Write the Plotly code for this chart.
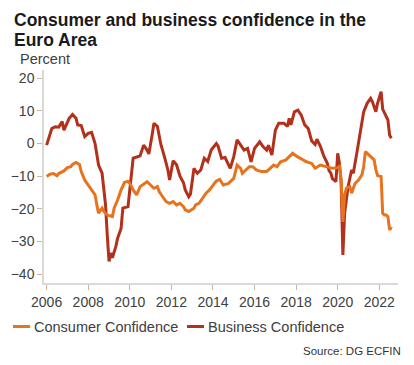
import plotly.graph_objects as go

# ---------------- data ----------------
business_dates = [
    "2006-01", "2006-04", "2006-06", "2006-08", "2006-10", "2006-11",
    "2007-02", "2007-04", "2007-06", "2007-07", "2007-09", "2007-11",
    "2008-01", "2008-03", "2008-05", "2008-07", "2008-09", "2008-11", "2008-12",
    "2009-01", "2009-02", "2009-03", "2009-05", "2009-06", "2009-08", "2009-09", "2009-12",
    "2010-01", "2010-03", "2010-07", "2010-09", "2010-11", "2010-12",
    "2011-02", "2011-03", "2011-05", "2011-07", "2011-09", "2011-11", "2011-12",
    "2012-02", "2012-04", "2012-06", "2012-08", "2012-09", "2012-11", "2012-12",
    "2013-02", "2013-04", "2013-06", "2013-08", "2013-10", "2013-12",
    "2014-03", "2014-04", "2014-06", "2014-08", "2014-11",
    "2015-01", "2015-03", "2015-05", "2015-07", "2015-09", "2015-11",
    "2016-01", "2016-04", "2016-06", "2016-08", "2016-09", "2016-11",
    "2017-01", "2017-03", "2017-06", "2017-08", "2017-09", "2017-10", "2017-12",
    "2018-02", "2018-04", "2018-06", "2018-08", "2018-09", "2018-10", "2018-12",
    "2019-01", "2019-03", "2019-05", "2019-07", "2019-08", "2019-09", "2019-10", "2019-11", "2019-12",
    "2020-01", "2020-02", "2020-03", "2020-04", "2020-05", "2020-07", "2020-09", "2020-10", "2020-12",
    "2021-02", "2021-04", "2021-06", "2021-08", "2021-09", "2021-11", "2021-12",
    "2022-02", "2022-03", "2022-04", "2022-05", "2022-06", "2022-07", "2022-08",
]
business_values = [
    -0.5, 4.6, 5.1, 5.0, 6.7, 4.1,
    7.7, 8.9, 7.7, 5.7, 5.5, 2.1,
    3.1, 3.4, 0.0, -6.6, -9.1, -18.8, -28.0,
    -36.1, -33.5, -35.0, -31.5, -29.0, -26.0, -19.8, -19.3,
    -14.7, -4.5, -3.8, -0.5, -2.0, -3.2,
    3.0, 6.2, 5.2, -0.3, -4.0, -8.1, -11.2,
    -5.3, -6.5, -10.0, -12.0, -14.2, -16.3, -15.5,
    -7.6, -9.1, -8.1, -4.5, -5.5, -2.0,
    0.0, -0.8, -4.5, -4.3, -7.6,
    -4.0, 1.1, -0.4, -2.0, -1.5, -5.6,
    -1.5, 0.5, -1.0, -2.0, -0.5, -3.5,
    4.1, 6.2, 6.2, 5.2, 7.7, 5.7, 9.7,
    10.2, 8.7, 5.7, 4.6, 3.0, 0.8, -0.3,
    1.3, -0.8, -3.8, -6.0, -8.3, -9.0, -10.8, -11.2, -11.7,
    -3.0, -6.1, -12.0, -34.1, -21.4, -13.2, -8.1, -9.1, -3.0,
    4.1, 9.7, 12.3, 13.8, 12.8, 9.7, 12.3,
    15.9, 10.5, 9.5, 8.2, 7.2, 2.5, 1.6,
]

consumer_dates = [
    "2006-01", "2006-03", "2006-05", "2006-07", "2006-08", "2006-11",
    "2007-01", "2007-03", "2007-04", "2007-06", "2007-08", "2007-09", "2007-11",
    "2008-01", "2008-03", "2008-05", "2008-06", "2008-07", "2008-09", "2008-10", "2008-12",
    "2009-03", "2009-04", "2009-06", "2009-08", "2009-10", "2009-12",
    "2010-01", "2010-03", "2010-05", "2010-07", "2010-09", "2010-11",
    "2011-01", "2011-03", "2011-05", "2011-06", "2011-08", "2011-10", "2011-12",
    "2012-02", "2012-04", "2012-06", "2012-08", "2012-09", "2012-11",
    "2013-02", "2013-03", "2013-05", "2013-07", "2013-09", "2013-11",
    "2014-01", "2014-03", "2014-05", "2014-07", "2014-10",
    "2015-01", "2015-03", "2015-05", "2015-06", "2015-08", "2015-10", "2015-12",
    "2016-02", "2016-05", "2016-08", "2016-10", "2016-12",
    "2017-02", "2017-04", "2017-07", "2017-09", "2017-11",
    "2018-01", "2018-04", "2018-07", "2018-10", "2018-12",
    "2019-03", "2019-06", "2019-08", "2019-10",
    "2020-01", "2020-02", "2020-03", "2020-04", "2020-05", "2020-06", "2020-08", "2020-09", "2020-11",
    "2021-01", "2021-03", "2021-04", "2021-05", "2021-06", "2021-07", "2021-08", "2021-09", "2021-10",
    "2021-11", "2021-12",
    "2022-01", "2022-02", "2022-03", "2022-04", "2022-05", "2022-06", "2022-07", "2022-08",
]
consumer_values = [
    -10.1, -9.4, -9.2, -9.9, -9.2, -8.4,
    -7.4, -7.1, -6.4, -5.8, -6.4, -8.6, -11.2,
    -12.7, -14.2, -15.7, -18.8, -21.3, -19.8, -20.8, -21.9,
    -22.4, -19.8, -17.3, -14.2, -11.9, -11.6,
    -12.2, -14.2, -15.7, -13.2, -12.5, -11.7,
    -12.7, -13.7, -13.2, -14.7, -16.3, -17.8, -18.3,
    -17.8, -18.8, -18.3, -19.3, -20.3, -20.8,
    -19.8, -18.8, -18.3, -16.8, -15.2, -14.2,
    -12.7, -11.5, -11.0, -12.7, -12.2,
    -10.7, -6.6, -7.6, -9.1, -8.1, -7.1, -7.1,
    -8.1, -8.6, -8.6, -7.6, -6.6,
    -7.1, -5.6, -5.1, -4.0, -3.0,
    -3.8, -4.8, -5.6, -6.1, -7.6,
    -6.6, -7.0, -7.3, -7.6,
    -7.4, -7.0, -11.0, -24.0, -15.7, -13.7, -13.2, -15.2, -12.2,
    -11.2, -9.6, -7.1, -2.5, -3.0, -3.5, -4.3, -4.5, -5.0,
    -8.0, -9.8,
    -10.0, -10.1, -21.4, -21.9, -21.9, -22.4, -26.5, -25.4,
]

y_ticks = [-40, -30, -20, -10, 0, 10, 20]

CONSUMER_COLOR = "#E8731F"
BUSINESS_COLOR = "#B3311B"
TEXT_GREY = "#404040"
FONT = "Arial, Liberation Sans, sans-serif"

fig = go.Figure()
fig.add_trace(go.Scatter(
    x=business_dates, y=business_values, mode="lines", name="Business Confidence",
    line=dict(color=BUSINESS_COLOR, width=3), showlegend=False,
))
fig.add_trace(go.Scatter(
    x=consumer_dates, y=consumer_values, mode="lines", name="Consumer Confidence",
    line=dict(color=CONSUMER_COLOR, width=3), showlegend=False,
))

# paper coordinate helpers (plot area: x 44..398 px, y 70..283 px)
L, R, T, B = 44, 16, 70, 82
W, H = 414, 365
PW, PH = W - L - R, H - T - B


def px(x):
    return (x - L) / PW


def py(y):
    return 1 - (y - T) / PH


annotations = [
    dict(text="<b>Consumer and business confidence in the</b>", x=px(12), y=py(20),
         xanchor="left", yanchor="middle", font=dict(size=17.5, color="#1a1a1a", family=FONT)),
    dict(text="<b>Euro Area</b>", x=px(12), y=py(39.5),
         xanchor="left", yanchor="middle", font=dict(size=17.5, color="#1a1a1a", family=FONT)),
    dict(text="Percent", x=px(18), y=py(58.5), xanchor="left", yanchor="middle",
         font=dict(size=14.5, color=TEXT_GREY, family=FONT)),
    dict(text="Consumer Confidence", x=px(32), y=py(326.5), xanchor="left", yanchor="middle",
         font=dict(size=14.5, color=TEXT_GREY, family=FONT)),
    dict(text="Business Confidence", x=px(206), y=py(326.5), xanchor="left", yanchor="middle",
         font=dict(size=14.5, color=TEXT_GREY, family=FONT)),
    dict(text="Source: DG ECFIN", x=px(403), y=py(351), xanchor="right", yanchor="middle",
         font=dict(size=11.5, color="#333333", family=FONT)),
]
for a in annotations:
    a.update(xref="paper", yref="paper", showarrow=False)

shapes = [
    dict(type="line", xref="paper", yref="paper", x0=px(13), x1=px(30), y0=py(326.5), y1=py(326.5),
         line=dict(color=CONSUMER_COLOR, width=3)),
    dict(type="line", xref="paper", yref="paper", x0=px(187), x1=px(204), y0=py(326.5), y1=py(326.5),
         line=dict(color=BUSINESS_COLOR, width=3)),
]

fig.update_layout(
    width=W, height=H,
    margin=dict(l=L, r=R, t=T, b=B, pad=0),
    paper_bgcolor="white", plot_bgcolor="white",
    font=dict(family=FONT, color=TEXT_GREY, size=14),
    showlegend=False,
    annotations=annotations,
    shapes=shapes,
    xaxis=dict(
        type="date", range=["2005-11-16", "2022-11-25"],
        tick0="2006-01-01", dtick="M24", tickformat="%Y",
        showgrid=False, zeroline=False,
        showline=True, linecolor="#d9d9d9", linewidth=1.5,
        ticks="outside", ticklen=5, tickcolor="#c9b5a5", tickwidth=1,
        tickfont=dict(size=14, color=TEXT_GREY, family=FONT),
    ),
    yaxis=dict(
        range=[-42.7, 22.5], tickvals=y_ticks,
        showgrid=False, zeroline=False,
        showline=True, linecolor="#d9d9d9", linewidth=1.5,
        ticks="outside", ticklen=5, tickcolor="#c9b5a5", tickwidth=1,
        tickfont=dict(size=14, color=TEXT_GREY, family=FONT),
    ),
)

fig.write_html(
    "out.html",
    config={"displayModeBar": False},
    post_script="document.body.style.margin='0';document.body.style.padding='0';",
)
